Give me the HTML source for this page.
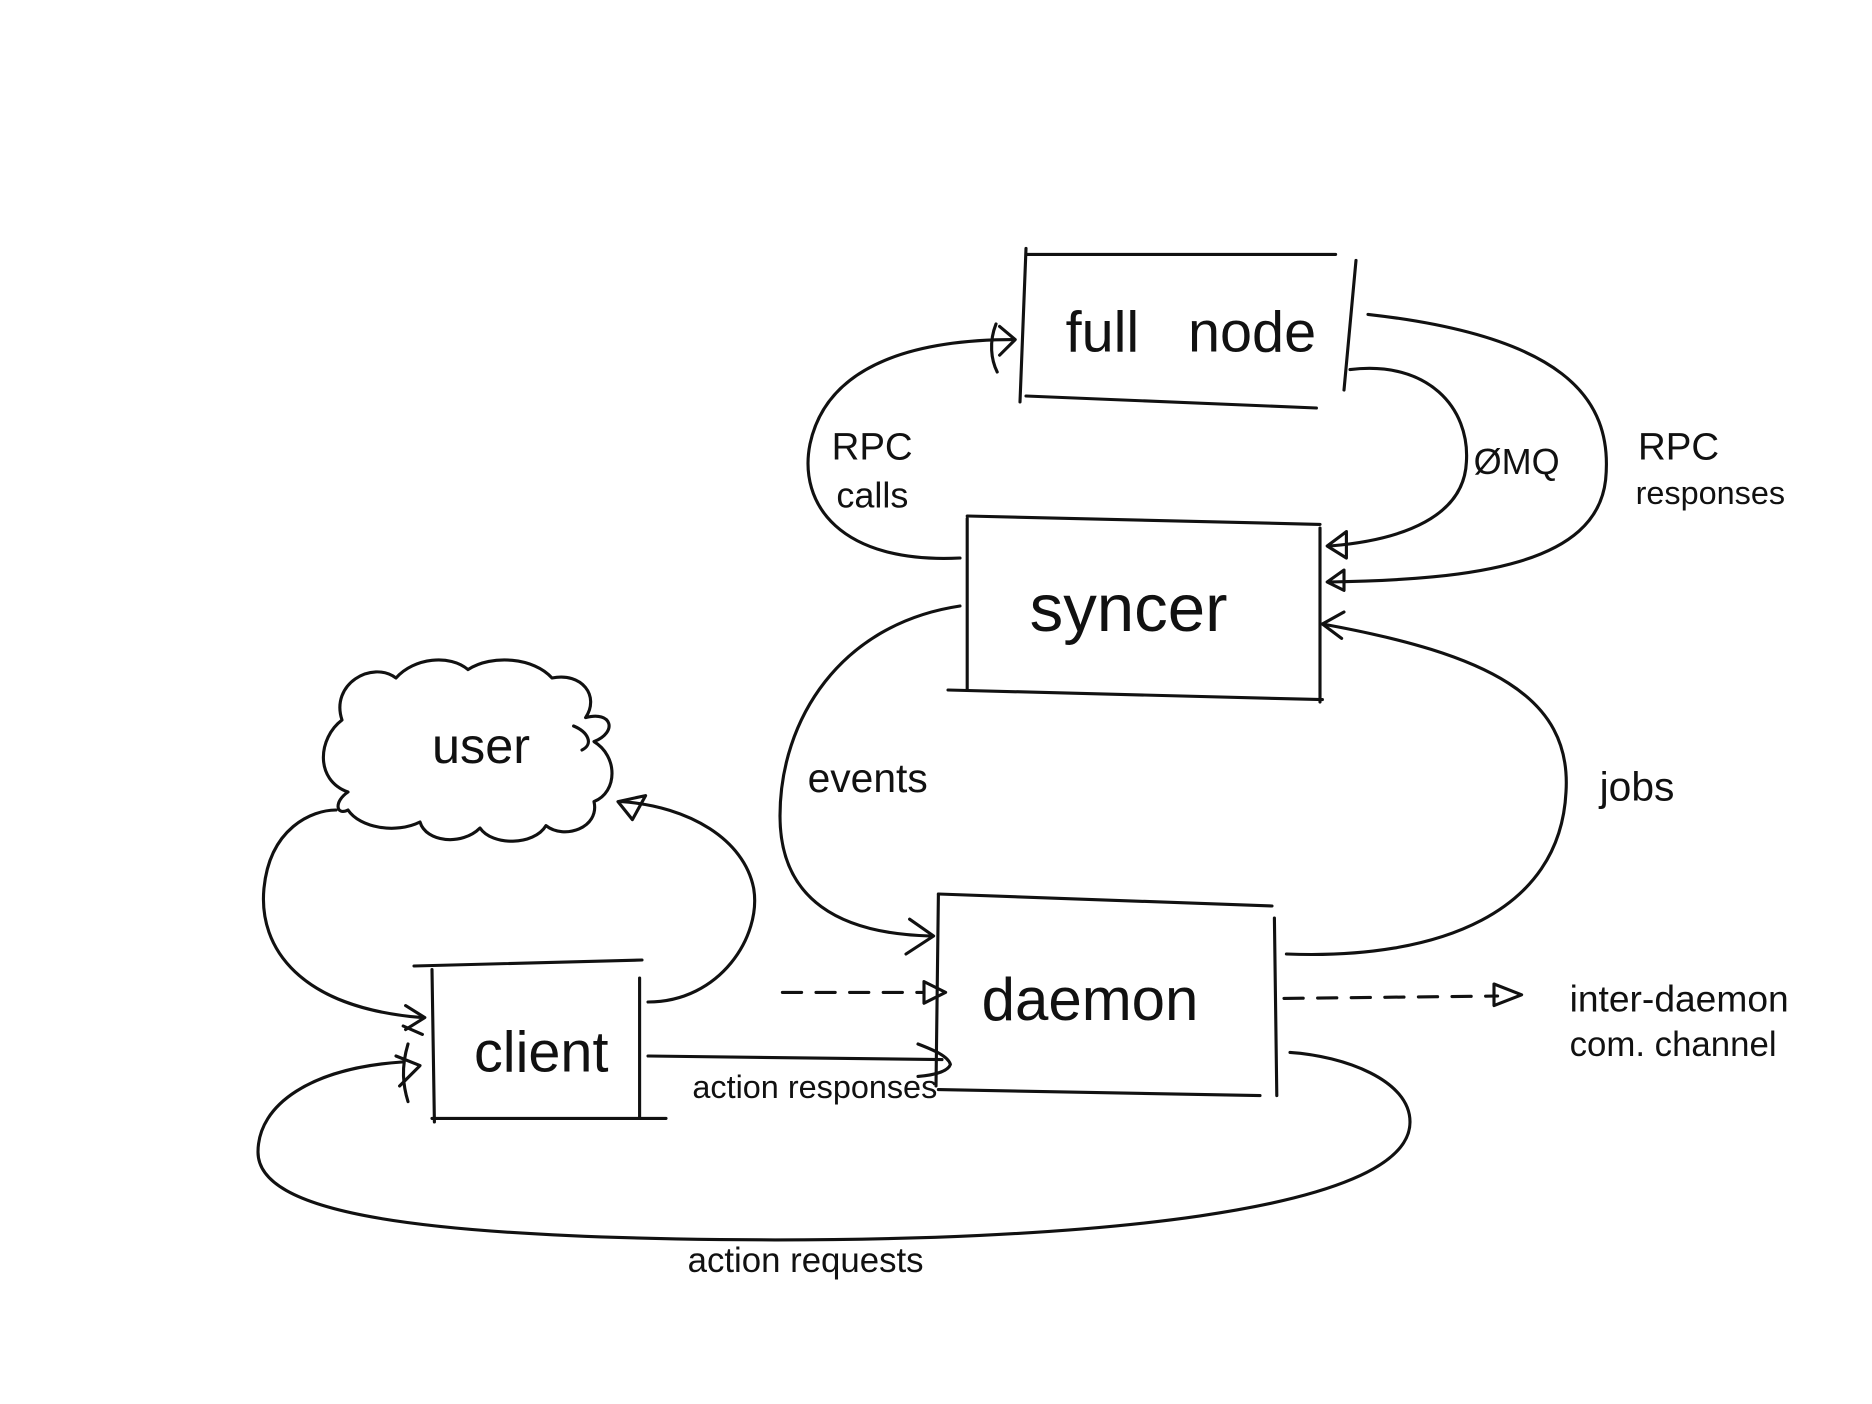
<!DOCTYPE html>
<html><head><meta charset="utf-8"><style>
html,body{margin:0;padding:0;background:#fff;}
svg{display:block}
text{font-family:"Liberation Sans",sans-serif;fill:#111;}
</style></head><body>
<svg width="1872" height="1404" viewBox="0 0 1560 1170" xmlns="http://www.w3.org/2000/svg">
<g fill="none" stroke="#111" stroke-width="2.6" stroke-linecap="round" stroke-linejoin="round">
<path d="M855 207 L850 335"/><path d="M855 212 L1113 212"/><path d="M1130 217 L1120 325"/><path d="M855 330 L1097 340"/>
<path d="M806 432 L806 575"/><path d="M806 430 L1100 437"/><path d="M1100 440 L1100 585"/><path d="M790 575 L1102 583"/>
<path d="M782 745 L780 905"/><path d="M782 745 L1060 755"/><path d="M1062 765 L1064 913"/><path d="M782 908 L1050 913"/>
<path d="M360 808 L362 935"/><path d="M345 805 L535 800"/><path d="M533 815 L533 932"/><path d="M360 932 L555 932"/>
<path d="M800 465 C700 470 665 420 675 370 C690 300 770 283 845 283"/>
<path d="M833 272 L846 283 L833 296"/><path d="M830 270 C824 285 826 300 831 310"/>
<path d="M1125 308 C1190 300 1225 340 1222 385 C1220 430 1170 450 1108 455"/>
<path d="M1122 443 L1106 455 L1122 465 Z"/>
<path d="M1140 262 C1300 280 1345 330 1338 400 C1330 470 1230 483 1108 485"/>
<path d="M1120 475 L1106 485 L1120 492 Z"/>
<path d="M800 505 C700 520 650 600 650 680 C650 750 700 778 775 780"/>
<path d="M758 766 L778 780 L755 795"/>
<path d="M1072 795 C1200 800 1300 760 1305 660 C1310 580 1240 545 1102 520"/>
<path d="M1120 510 L1102 520 L1118 532"/>
<path d="M290 660 C262 650 265 615 285 600 C275 570 310 550 330 565 C345 548 375 545 390 558 C410 545 445 548 460 565 C485 560 500 580 488 598 C510 592 515 610 495 618 C515 630 515 660 495 668 C500 690 470 700 455 688 C445 705 410 705 400 690 C385 705 355 702 350 685 C330 695 300 690 290 675 C280 680 278 668 290 660 Z"/>
<path d="M478 605 C490 610 495 620 485 625"/>
<path d="M352 848 C250 840 215 790 220 740 C225 690 260 675 280 675"/>
<path d="M338 838 L354 848 L338 858"/><path d="M336 855 L352 862"/>
<path d="M540 835 C600 835 635 780 628 740 C620 700 575 672 518 668"/>
<path d="M515 668 L538 663 L527 683 Z"/>
<path d="M335 885 C260 890 215 920 215 960 C215 1010 340 1030 600 1033 C900 1036 1175 1010 1175 935 C1175 900 1120 880 1075 877"/>
<path d="M330 880 L350 888 L333 905"/><path d="M340 870 C334 890 336 905 340 918"/>
<path d="M540 880 L785 883"/>
<path d="M765 870 C778 875 790 880 792 887 C790 893 778 896 765 897"/>
<path d="M652 827 L770 827" stroke-dasharray="16 12"/>
<path d="M770 818 L788 827 L770 836 Z"/>
<path d="M1070 832 L1248 830" stroke-dasharray="16 12"/>
<path d="M1245 820 L1268 829 L1245 838 Z"/>
</g>
<g>
<text x="888" y="293" font-size="48">full</text>
<text x="990" y="293" font-size="48">node</text>
<text x="858" y="526" font-size="56">syncer</text>
<text x="818" y="850" font-size="50">daemon</text>
<text x="395" y="893" font-size="48">client</text>
<text x="360" y="636" font-size="42">user</text>
<text x="693" y="383" font-size="32">RPC</text>
<text x="697" y="423" font-size="30">calls</text>
<text x="1228" y="395" font-size="30">ØMQ</text>
<text x="1365" y="383" font-size="32">RPC</text>
<text x="1363" y="420" font-size="27">responses</text>
<text x="673" y="660" font-size="34">events</text>
<text x="1333" y="667" font-size="34">jobs</text>
<text x="1308" y="843" font-size="31">inter-daemon</text>
<text x="1308" y="880" font-size="29">com. channel</text>
<text x="577" y="915" font-size="27">action responses</text>
<text x="573" y="1060" font-size="29">action requests</text>
</g>
</svg>
</body></html>
